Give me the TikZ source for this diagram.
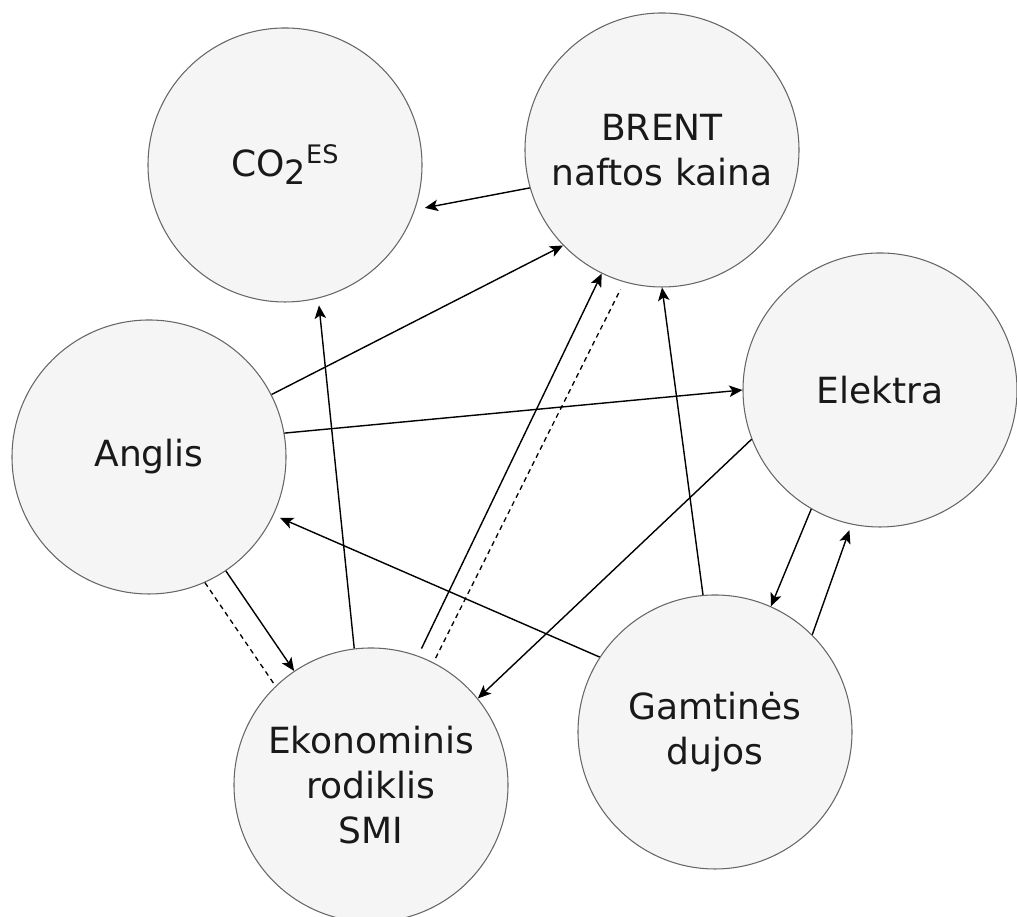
\documentclass[tikz,border=0pt]{standalone}
\usepackage{fontspec}
\setmainfont{DejaVu Sans}
\usetikzlibrary{arrows.meta, positioning}
\definecolor{factor-fill}{HTML}{F5F5F5}
\definecolor{factor-line}{HTML}{666666}
\tikzstyle{factor} = [circle, draw=factor-line, fill=factor-fill, line width=0.6pt, minimum size=5.48cm, inner sep=0pt, align=center, text=black!90, font=\fontsize{20.5}{25.6}\selectfont]
\tikzstyle{link} = [line width=0.8pt, -{Stealth[length=7.5pt, width=6.5pt, inset=1.8pt]}]
\tikzstyle{weaklink} = [line width=0.75pt, dash pattern=on 2.8pt off 2.3pt]

\begin{document}
\begin{tikzpicture}
    \useasboundingbox (0, 0) rectangle (20.34, 18.34);

    \node[factor] at (5.70, 15.04) (co2) {CO\raisebox{-0.16cm}{\fontsize{19}{19}\selectfont 2}\raisebox{0.26cm}{\fontsize{14.5}{14.5}\selectfont ES}};
    \node[factor] at (13.24, 15.34) (brent) {BRENT\\naftos kaina};
    \node[factor] at (17.60, 10.54) (elektra) {Elektra};
    \node[factor] at (2.98, 9.20) (anglis) {Anglis};
    \node[factor] at (7.42, 2.64) (ekon) {Ekonominis\\rodiklis\hspace*{0.32em}\\SMI};
    \node[factor] at (14.30, 3.70) (dujos) {Gamtinės\\dujos};

    \draw[link, shorten >=0.2cm] (brent.196) -- (co2.341);
    \draw[link] (anglis.27) -- (brent.224);
    \draw[link] (anglis.10) -- (elektra.180);
    \draw[link, shorten >=0.14cm] (dujos.147) -- (anglis.335);
    \draw[link] (elektra.201) -- (ekon.39);
    \draw[link] (anglis.304) -- (ekon.124);
    \draw[weaklink] (anglis.294) -- (ekon.134);
    \draw[link, shorten >=0.14cm] (ekon.97) -- (co2.284);
    \draw[link, shorten <=0.16cm] (ekon.70) -- (brent.244);
    \draw[weaklink, shorten <=0.1cm, shorten >=0.16cm] (ekon.63) -- (brent.254);
    \draw[link] (dujos.95) -- (brent.270);
    \draw[link] (elektra.240) -- (dujos.66);
    \draw[link, shorten >=0.12cm] (dujos.45) -- (elektra.258);
\end{tikzpicture}
\end{document}
